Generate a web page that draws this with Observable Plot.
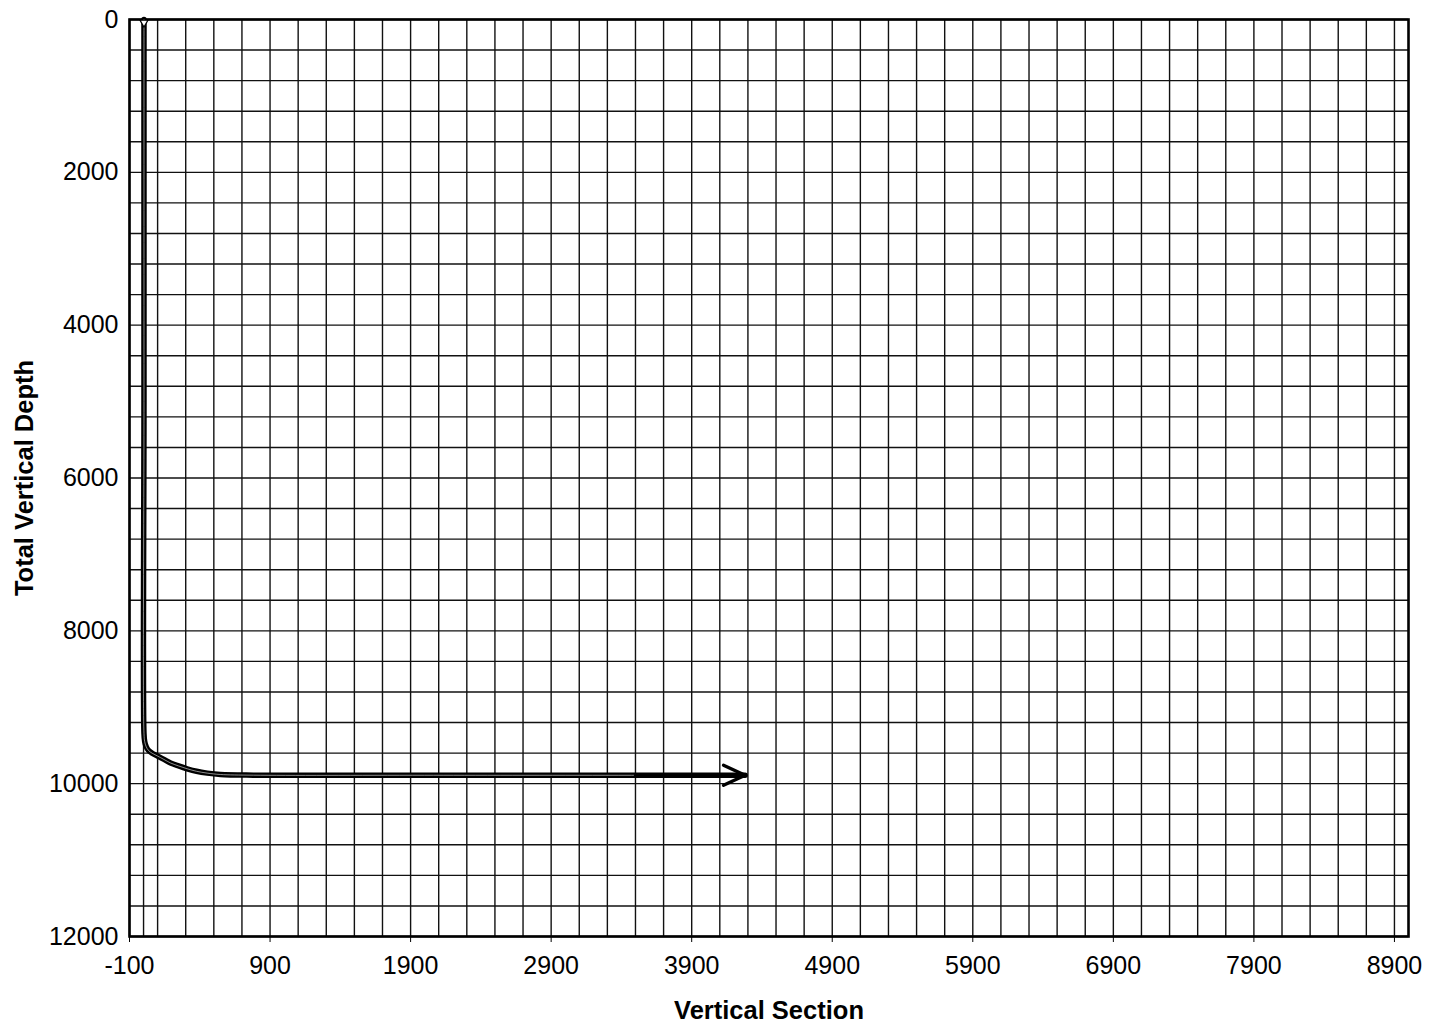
<!DOCTYPE html>
<html>
<head>
<meta charset="utf-8">
<script src="https://cdn.jsdelivr.net/npm/d3@7"></script>
<script src="https://cdn.jsdelivr.net/npm/@observablehq/plot@0.6"></script>
<style>
  body { margin: 0; background: #fff; }
  #chart svg { display: block; }
</style>
</head>
<body>
<div id="chart"></div>
<script>
// Trajectory: vertical section (x) vs total vertical depth (y)
const vertSection = [3, 3, 3, 8, 18, 35, 64, 99, 145, 192, 249, 310, 377, 453, 547, 782, 2000, 4280];
const tvdDepth    = [0, 5000, 9343, 9448, 9513, 9565, 9605, 9638, 9683, 9729, 9768, 9805, 9838, 9862, 9880, 9889, 9890, 9890];

// Axis tick labels
const xTicks = [-100, 900, 1900, 2900, 3900, 4900, 5900, 6900, 7900, 8900];
const yTicks = [0, 2000, 4000, 6000, 8000, 10000, 12000];

// Grid lines (minor grid every 200 in x, every 400 in y; plus the x = 0 line)
const xGrid = d3.range(-100, 8901, 200).concat([0]);
const yGrid = d3.range(0, 12001, 400);

const traj = vertSection.map((v, i) => ({x: v, y: tvdDepth[i]}));
const arrowSeg = [{x1: 3500, x2: 4280, y: 9890}];
const fmt = d => (d < 0 ? "-" + Math.abs(d) : String(d));

const chart = Plot.plot({
  width: 1430,
  height: 1035,
  marginLeft: 129,
  marginRight: 22,
  marginTop: 19,
  marginBottom: 99,
  style: {fontFamily: "'Liberation Sans', Arial, sans-serif", fontSize: "25px", color: "#000", background: "#fff"},
  x: {domain: [-100, 9000]},
  y: {domain: [0, 12000], reverse: true},
  marks: [
    Plot.ruleX(xGrid, {x: d => d, stroke: "#111", strokeWidth: 1.4}),
    Plot.ruleY(yGrid, {y: d => d, stroke: "#111", strokeWidth: 1.4}),
    Plot.frame({stroke: "#000", strokeWidth: 2.6}),
    Plot.line(traj, {x: "x", y: "y", stroke: "#000", strokeWidth: 5.5, curve: "catmull-rom"}),
    Plot.line(traj, {x: "x", y: "y", stroke: "#fff", strokeWidth: 1, strokeOpacity: 0.55, curve: "catmull-rom"}),
    Plot.arrow(arrowSeg, {x1: "x1", x2: "x2", y1: "y", y2: "y", stroke: "#000", strokeWidth: 3.4, headLength: 10.5, headAngle: 50}),
    Plot.dot([traj[0]], {x: "x", y: "y", symbol: "triangle", rotate: 180, r: 3, fill: "#fff", stroke: "#000", strokeWidth: 1.2, dy: 3}),
    Plot.axisX(xTicks, {anchor: "bottom", tickSize: 6, tickPadding: 14, label: null, tickFormat: fmt, fontSize: 25}),
    Plot.axisY(yTicks, {anchor: "left", tickSize: 0, tickPadding: 11, label: null, tickFormat: fmt, fontSize: 25}),
    Plot.text(["Vertical Section"], {frameAnchor: "bottom", dy: 82, textAnchor: "middle", text: d => d, fontWeight: "bold", fontSize: 25.5, fill: "#000"}),
    Plot.text(["Total Vertical Depth"], {frameAnchor: "left", dx: -105, textAnchor: "middle", rotate: -90, text: d => d, fontWeight: "bold", fontSize: 25.5, fill: "#000"})
  ]
});
document.getElementById("chart").appendChild(chart);
</script>
</body>
</html>
